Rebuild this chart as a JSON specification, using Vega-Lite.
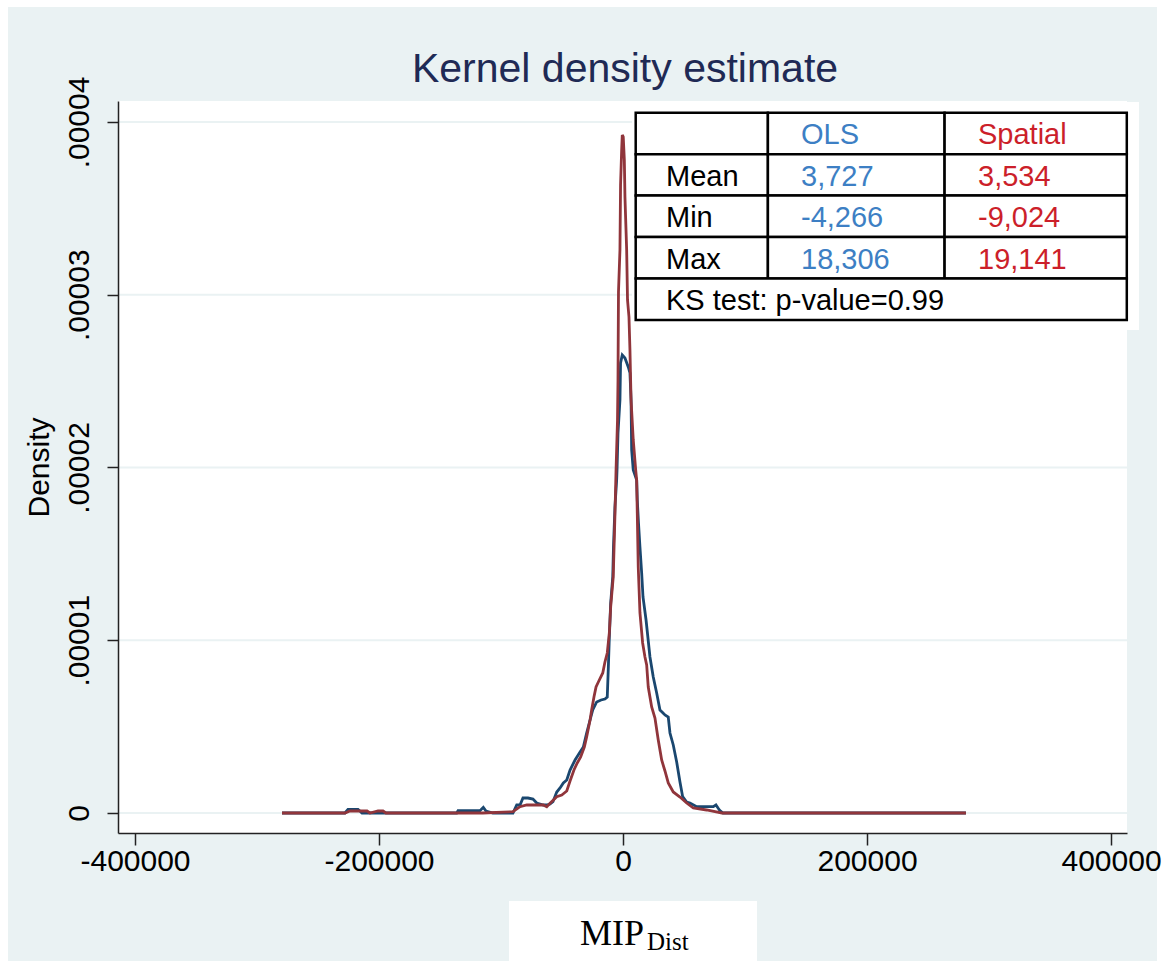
{
  "$schema": "https://vega.github.io/schema/vega-lite/v6.json",
  "width": 1009,
  "height": 732,
  "autosize": {"type": "none"},
  "padding": {"left": 118, "top": 101, "right": 43, "bottom": 128},
  "background": "white",
  "config": {"view": {"stroke": null}},
  "datasets": {
    "curves": [
      {"model": "OLS", "x": -279500, "density": 0},
      {"model": "OLS", "x": -227900, "density": 0},
      {"model": "OLS", "x": -225400, "density": 2.14e-7},
      {"model": "OLS", "x": -217200, "density": 2.14e-7},
      {"model": "OLS", "x": -213900, "density": 0},
      {"model": "OLS", "x": -136300, "density": 0},
      {"model": "OLS", "x": -135200, "density": 1.33e-7},
      {"model": "OLS", "x": -117200, "density": 1.33e-7},
      {"model": "OLS", "x": -114500, "density": 3.3e-7},
      {"model": "OLS", "x": -112300, "density": 1.16e-7},
      {"model": "OLS", "x": -106600, "density": 0},
      {"model": "OLS", "x": -90200, "density": 0},
      {"model": "OLS", "x": -87100, "density": 4.63e-7},
      {"model": "OLS", "x": -84400, "density": 4.63e-7},
      {"model": "OLS", "x": -82000, "density": 8.68e-7},
      {"model": "OLS", "x": -77900, "density": 8.68e-7},
      {"model": "OLS", "x": -73800, "density": 8.1e-7},
      {"model": "OLS", "x": -70700, "density": 5.79e-7},
      {"model": "OLS", "x": -65300, "density": 4.63e-7},
      {"model": "OLS", "x": -62500, "density": 4.63e-7},
      {"model": "OLS", "x": -59800, "density": 5.21e-7},
      {"model": "OLS", "x": -57400, "density": 6.54e-7},
      {"model": "OLS", "x": -54300, "density": 1.216e-6},
      {"model": "OLS", "x": -51600, "density": 1.447e-6},
      {"model": "OLS", "x": -48900, "density": 1.737e-6},
      {"model": "OLS", "x": -46100, "density": 1.91e-6},
      {"model": "OLS", "x": -43400, "density": 2.489e-6},
      {"model": "OLS", "x": -39300, "density": 3.068e-6},
      {"model": "OLS", "x": -35200, "density": 3.531e-6},
      {"model": "OLS", "x": -32500, "density": 3.821e-6},
      {"model": "OLS", "x": -29800, "density": 4.631e-6},
      {"model": "OLS", "x": -27000, "density": 5.384e-6},
      {"model": "OLS", "x": -24800, "density": 5.963e-6},
      {"model": "OLS", "x": -21600, "density": 6.426e-6},
      {"model": "OLS", "x": -18000, "density": 6.542e-6},
      {"model": "OLS", "x": -14800, "density": 6.599e-6},
      {"model": "OLS", "x": -12900, "density": 6.715e-6},
      {"model": "OLS", "x": -12000, "density": 8.452e-6},
      {"model": "OLS", "x": -11200, "density": 1.0189e-5},
      {"model": "OLS", "x": -10100, "density": 1.2157e-5},
      {"model": "OLS", "x": -8400, "density": 1.3662e-5},
      {"model": "OLS", "x": -7800, "density": 1.5399e-5},
      {"model": "OLS", "x": -6600, "density": 1.7714e-5},
      {"model": "OLS", "x": -5200, "density": 1.9277e-5},
      {"model": "OLS", "x": -4900, "density": 1.9856e-5},
      {"model": "OLS", "x": -4100, "density": 2.1998e-5},
      {"model": "OLS", "x": -2500, "density": 2.3909e-5},
      {"model": "OLS", "x": -2000, "density": 2.6051e-5},
      {"model": "OLS", "x": -600, "density": 2.6514e-5},
      {"model": "OLS", "x": 1600, "density": 2.634e-5},
      {"model": "OLS", "x": 4300, "density": 2.5819e-5},
      {"model": "OLS", "x": 5700, "density": 2.5472e-5},
      {"model": "OLS", "x": 6600, "density": 2.3909e-5},
      {"model": "OLS", "x": 7100, "density": 2.1014e-5},
      {"model": "OLS", "x": 8400, "density": 1.9856e-5},
      {"model": "OLS", "x": 11200, "density": 1.9277e-5},
      {"model": "OLS", "x": 11700, "density": 1.812e-5},
      {"model": "OLS", "x": 12700, "density": 1.6788e-5},
      {"model": "OLS", "x": 13900, "density": 1.5399e-5},
      {"model": "OLS", "x": 15300, "density": 1.3894e-5},
      {"model": "OLS", "x": 16400, "density": 1.2504e-5},
      {"model": "OLS", "x": 18900, "density": 1.1173e-5},
      {"model": "OLS", "x": 22100, "density": 9.031e-6},
      {"model": "OLS", "x": 24800, "density": 7.873e-6},
      {"model": "OLS", "x": 27600, "density": 6.947e-6},
      {"model": "OLS", "x": 30300, "density": 5.963e-6},
      {"model": "OLS", "x": 32000, "density": 5.847e-6},
      {"model": "OLS", "x": 34400, "density": 5.673e-6},
      {"model": "OLS", "x": 37100, "density": 5.557e-6},
      {"model": "OLS", "x": 38500, "density": 4.631e-6},
      {"model": "OLS", "x": 41200, "density": 3.937e-6},
      {"model": "OLS", "x": 44000, "density": 2.952e-6},
      {"model": "OLS", "x": 46700, "density": 1.795e-6},
      {"model": "OLS", "x": 48900, "density": 9.44e-7},
      {"model": "OLS", "x": 52200, "density": 6.37e-7},
      {"model": "OLS", "x": 54900, "density": 5.79e-7},
      {"model": "OLS", "x": 60400, "density": 3.65e-7},
      {"model": "OLS", "x": 74000, "density": 3.65e-7},
      {"model": "OLS", "x": 76200, "density": 4.63e-7},
      {"model": "OLS", "x": 77900, "density": 2.89e-7},
      {"model": "OLS", "x": 79500, "density": 1.33e-7},
      {"model": "OLS", "x": 82000, "density": 0},
      {"model": "OLS", "x": 281100, "density": 0},
      {"model": "Spatial", "x": -279500, "density": 0},
      {"model": "Spatial", "x": -227900, "density": 0},
      {"model": "Spatial", "x": -223800, "density": 1.16e-7},
      {"model": "Spatial", "x": -209800, "density": 1.16e-7},
      {"model": "Spatial", "x": -207400, "density": 0},
      {"model": "Spatial", "x": -200800, "density": 1.16e-7},
      {"model": "Spatial", "x": -196700, "density": 1.16e-7},
      {"model": "Spatial", "x": -194300, "density": 0},
      {"model": "Spatial", "x": -114800, "density": 0},
      {"model": "Spatial", "x": -90200, "density": 7.5e-8},
      {"model": "Spatial", "x": -84400, "density": 3.65e-7},
      {"model": "Spatial", "x": -78900, "density": 4.63e-7},
      {"model": "Spatial", "x": -65300, "density": 4.63e-7},
      {"model": "Spatial", "x": -62500, "density": 3.65e-7},
      {"model": "Spatial", "x": -59800, "density": 5.62e-7},
      {"model": "Spatial", "x": -54300, "density": 9.44e-7},
      {"model": "Spatial", "x": -50200, "density": 1.042e-6},
      {"model": "Spatial", "x": -46100, "density": 1.274e-6},
      {"model": "Spatial", "x": -43400, "density": 1.852e-6},
      {"model": "Spatial", "x": -40200, "density": 2.489e-6},
      {"model": "Spatial", "x": -37500, "density": 2.895e-6},
      {"model": "Spatial", "x": -34700, "density": 3.242e-6},
      {"model": "Spatial", "x": -31700, "density": 3.821e-6},
      {"model": "Spatial", "x": -29800, "density": 4.4e-6},
      {"model": "Spatial", "x": -27000, "density": 5.384e-6},
      {"model": "Spatial", "x": -25700, "density": 5.963e-6},
      {"model": "Spatial", "x": -23800, "density": 6.715e-6},
      {"model": "Spatial", "x": -22100, "density": 7.294e-6},
      {"model": "Spatial", "x": -20200, "density": 7.584e-6},
      {"model": "Spatial", "x": -16600, "density": 8.105e-6},
      {"model": "Spatial", "x": -14800, "density": 8.741e-6},
      {"model": "Spatial", "x": -12900, "density": 9.262e-6},
      {"model": "Spatial", "x": -11200, "density": 1.042e-5},
      {"model": "Spatial", "x": -10100, "density": 1.1925e-5},
      {"model": "Spatial", "x": -8000, "density": 1.3662e-5},
      {"model": "Spatial", "x": -6600, "density": 1.7251e-5},
      {"model": "Spatial", "x": -5700, "density": 1.9856e-5},
      {"model": "Spatial", "x": -4500, "density": 2.2751e-5},
      {"model": "Spatial", "x": -4100, "density": 2.5066e-5},
      {"model": "Spatial", "x": -3700, "density": 3.0161e-5},
      {"model": "Spatial", "x": -2500, "density": 3.2592e-5},
      {"model": "Spatial", "x": -2000, "density": 3.6355e-5},
      {"model": "Spatial", "x": -1100, "density": 3.8381e-5},
      {"model": "Spatial", "x": -600, "density": 3.9249e-5},
      {"model": "Spatial", "x": 200, "density": 3.9134e-5},
      {"model": "Spatial", "x": 1100, "density": 3.7802e-5},
      {"model": "Spatial", "x": 1600, "density": 3.566e-5},
      {"model": "Spatial", "x": 3000, "density": 3.2592e-5},
      {"model": "Spatial", "x": 3700, "density": 2.9698e-5},
      {"model": "Spatial", "x": 4900, "density": 2.8713e-5},
      {"model": "Spatial", "x": 5700, "density": 2.6803e-5},
      {"model": "Spatial", "x": 6600, "density": 2.3909e-5},
      {"model": "Spatial", "x": 8400, "density": 2.1593e-5},
      {"model": "Spatial", "x": 10400, "density": 1.9856e-5},
      {"model": "Spatial", "x": 11200, "density": 1.9277e-5},
      {"model": "Spatial", "x": 11700, "density": 1.7367e-5},
      {"model": "Spatial", "x": 12500, "density": 1.4241e-5},
      {"model": "Spatial", "x": 13900, "density": 1.1578e-5},
      {"model": "Spatial", "x": 16100, "density": 9.841e-6},
      {"model": "Spatial", "x": 18000, "density": 9.031e-6},
      {"model": "Spatial", "x": 19400, "density": 8.568e-6},
      {"model": "Spatial", "x": 20700, "density": 7.294e-6},
      {"model": "Spatial", "x": 22100, "density": 6.715e-6},
      {"model": "Spatial", "x": 23500, "density": 6.136e-6},
      {"model": "Spatial", "x": 26200, "density": 5.5e-6},
      {"model": "Spatial", "x": 28900, "density": 4.226e-6},
      {"model": "Spatial", "x": 31700, "density": 3.068e-6},
      {"model": "Spatial", "x": 34400, "density": 2.431e-6},
      {"model": "Spatial", "x": 37100, "density": 1.737e-6},
      {"model": "Spatial", "x": 41200, "density": 1.216e-6},
      {"model": "Spatial", "x": 46700, "density": 9.26e-7},
      {"model": "Spatial", "x": 52200, "density": 5.79e-7},
      {"model": "Spatial", "x": 57600, "density": 2.89e-7},
      {"model": "Spatial", "x": 68600, "density": 1.74e-7},
      {"model": "Spatial", "x": 75400, "density": 7.5e-8},
      {"model": "Spatial", "x": 81100, "density": 0},
      {"model": "Spatial", "x": 281100, "density": 0}
    ],
    "table": [
      {"row": "head", "label": "", "OLS": "OLS", "Spatial": "Spatial"},
      {"row": "Mean", "label": "Mean", "OLS": "3,727", "Spatial": "3,534"},
      {"row": "Min", "label": "Min", "OLS": "-4,266", "Spatial": "-9,024"},
      {"row": "Max", "label": "Max", "OLS": "18,306", "Spatial": "19,141"},
      {"row": "KS", "label": "KS test: p-value=0.99", "OLS": "", "Spatial": ""}
    ],
    "gridlines": [
      {"v": 0}, {"v": 0.00001}, {"v": 0.00002}, {"v": 0.00003}, {"v": 0.00004}
    ]
  },
  "resolve": {"scale": {"y": "independent"}},
  "layer": [
    {
      "layer": [
        {
          "data": {"values": [{}]},
          "mark": {"type": "rect", "fill": "#EAF2F3"},
          "encoding": {
            "x": {"datum": -504100, "type": "quantitative"},
            "x2": {"datum": 437700},
            "y": {"datum": 0.00004666, "type": "quantitative"},
            "y2": {"datum": -0.00000909}
          }
        },
        {
          "data": {"values": [{}]},
          "mark": {"type": "rect", "fill": "white"},
          "encoding": {
            "x": {"datum": -413934, "type": "quantitative"},
            "x2": {"datum": 413115},
            "y": {"datum": 0.000041215, "type": "quantitative"},
            "y2": {"datum": -0.0000011577}
          }
        },
        {
          "data": {"name": "gridlines"},
          "mark": {"type": "rule", "stroke": "#EAF2F3", "strokeWidth": 2},
          "encoding": {"y": {"field": "v", "type": "quantitative"}}
        },
        {
          "data": {"values": [{}]},
          "mark": {"type": "rect", "fill": "white"},
          "encoding": {
            "x": {"datum": 7400, "type": "quantitative"},
            "x2": {"datum": 422950},
            "y": {"datum": 0.000041158, "type": "quantitative"},
            "y2": {"datum": 0.000027961}
          }
        },
        {
          "data": {"name": "curves"},
          "transform": [{"filter": "datum.model == 'OLS'"}],
          "mark": {"type": "line", "strokeWidth": 2.8, "interpolate": "linear"},
          "encoding": {
            "x": {
              "field": "x",
              "type": "quantitative",
              "scale": {"domain": [-413934, 413115], "nice": false, "zero": false},
              "axis": {
                "values": [-400000, -200000, 0, 200000, 400000],
                "labelExpr": "'' + datum.value",
                "title": null,
                "grid": false,
                "tickSize": 12,
                "tickWidth": 1.5,
                "tickColor": "#222222",
                "domainColor": "#222222",
                "domainWidth": 1.5,
                "labelFont": "Liberation Sans, Arial, sans-serif",
                "labelFontSize": 30,
                "labelColor": "#000000",
                "labelPadding": 1,
                "labelFlush": false,
                "labelOverlap": false,
                "zindex": 1
              }
            },
            "y": {
              "field": "density",
              "type": "quantitative",
              "scale": {"domain": [-0.0000011577, 0.000041215], "nice": false, "zero": false},
              "axis": {
                "values": [0, 0.00001, 0.00002, 0.00003, 0.00004],
                "labelExpr": "datum.value == 0 ? '0' : replace(format(datum.value, '.5f'), '0.', '.')",
                "title": "Density",
                "titleFont": "Liberation Sans, Arial, sans-serif",
                "titleFontSize": 30,
                "titleFontWeight": "normal",
                "titleColor": "#000000",
                "titlePadding": 10,
                "grid": false,
                "tickSize": 11,
                "tickWidth": 1.5,
                "tickColor": "#222222",
                "domainColor": "#222222",
                "domainWidth": 1.5,
                "labelFont": "Liberation Sans, Arial, sans-serif",
                "labelFontSize": 30,
                "labelColor": "#000000",
                "labelAngle": 270,
                "labelAlign": "center",
                "labelBaseline": "bottom",
                "labelPadding": 13,
                "labelOverlap": false,
                "zindex": 1
              }
            },
            "color": {
              "field": "model",
              "type": "nominal",
              "scale": {"domain": ["OLS", "Spatial"], "range": ["#1a476f", "#90353b"]},
              "legend": null
            }
          }
        },
        {
          "data": {"name": "curves"},
          "transform": [{"filter": "datum.model == 'Spatial'"}],
          "mark": {"type": "line", "strokeWidth": 2.8, "interpolate": "linear"},
          "encoding": {
            "x": {"field": "x", "type": "quantitative"},
            "y": {"field": "density", "type": "quantitative"},
            "color": {"field": "model", "type": "nominal", "legend": null}
          }
        },
        {
          "data": {"values": [{}]},
          "mark": {"type": "rect", "fill": "white"},
          "encoding": {
            "x": {"datum": -93443, "type": "quantitative"},
            "x2": {"datum": 109836},
            "y": {"datum": -0.000005094, "type": "quantitative"},
            "y2": {"datum": -0.00000909}
          }
        },
        {
          "data": {"values": [{}]},
          "mark": {"type": "text", "text": "MIP", "font": "Liberation Serif, Times New Roman, serif", "fontSize": 36, "align": "left", "baseline": "alphabetic", "color": "#000000"},
          "encoding": {
            "x": {"datum": -35246, "type": "quantitative"},
            "y": {"datum": -0.0000076415, "type": "quantitative"}
          }
        },
        {
          "data": {"values": [{}]},
          "mark": {"type": "text", "text": "Dist", "font": "Liberation Serif, Times New Roman, serif", "fontSize": 25, "align": "left", "baseline": "alphabetic", "color": "#000000"},
          "encoding": {
            "x": {"datum": 19672, "type": "quantitative"},
            "y": {"datum": -0.000007931, "type": "quantitative"}
          }
        },
        {
          "data": {"values": [{}]},
          "mark": {"type": "text", "text": "Kernel density estimate", "font": "Liberation Sans, Arial, sans-serif", "fontSize": 41, "align": "center", "baseline": "alphabetic", "color": "#1f2a55"},
          "encoding": {
            "x": {"datum": 1639, "type": "quantitative"},
            "y": {"datum": 0.000042318, "type": "quantitative"}
          }
        }
      ]
    },
    {
      "data": {"name": "table"},
      "encoding": {
        "y": {
          "field": "row",
          "type": "nominal",
          "scale": {"domain": ["head", "Mean", "Min", "Max", "KS"], "range": [11.7, 219], "paddingInner": 0, "paddingOuter": 0},
          "axis": null
        }
      },
      "layer": [
        {
          "transform": [{"filter": "datum.row != 'KS'"}],
          "mark": {"type": "rect", "fill": "white", "stroke": "#000000", "strokeWidth": 2.5},
          "encoding": {"x": {"datum": 10410, "type": "quantitative"}, "x2": {"datum": 118770}}
        },
        {
          "transform": [{"filter": "datum.row != 'KS'"}],
          "mark": {"type": "rect", "fill": "white", "stroke": "#000000", "strokeWidth": 2.5},
          "encoding": {"x": {"datum": 118770, "type": "quantitative"}, "x2": {"datum": 263607}}
        },
        {
          "transform": [{"filter": "datum.row != 'KS'"}],
          "mark": {"type": "rect", "fill": "white", "stroke": "#000000", "strokeWidth": 2.5},
          "encoding": {"x": {"datum": 263607, "type": "quantitative"}, "x2": {"datum": 412951}}
        },
        {
          "transform": [{"filter": "datum.row == 'KS'"}],
          "mark": {"type": "rect", "fill": "white", "stroke": "#000000", "strokeWidth": 2.5},
          "encoding": {"x": {"datum": 10410, "type": "quantitative"}, "x2": {"datum": 412951}}
        },
        {
          "mark": {"type": "text", "align": "left", "baseline": "middle", "dy": 2, "font": "Liberation Sans, Arial, sans-serif", "fontSize": 29, "color": "#000000"},
          "encoding": {"x": {"datum": 35246, "type": "quantitative"}, "text": {"field": "label"}}
        },
        {
          "mark": {"type": "text", "align": "left", "baseline": "middle", "dy": 2, "font": "Liberation Sans, Arial, sans-serif", "fontSize": 29, "color": "#3d7fc4"},
          "encoding": {"x": {"datum": 145902, "type": "quantitative"}, "text": {"field": "OLS"}}
        },
        {
          "mark": {"type": "text", "align": "left", "baseline": "middle", "dy": 2, "font": "Liberation Sans, Arial, sans-serif", "fontSize": 29, "color": "#cc1f2a"},
          "encoding": {"x": {"datum": 290984, "type": "quantitative"}, "text": {"field": "Spatial"}}
        }
      ]
    }
  ]
}
